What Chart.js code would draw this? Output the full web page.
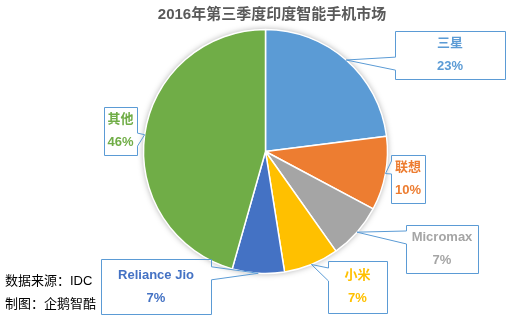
<!DOCTYPE html>
<html>
<head>
<meta charset="utf-8">
<script src="https://cdn.jsdelivr.net/npm/chart.js@4/dist/chart.umd.min.js"></script>
<style>
  html, body { margin: 0; padding: 0; background: #fff; }
  canvas { display: block; }
</style>
</head>
<body>
<canvas id="grafico" width="527" height="320"></canvas>
<script>
const marcas = ['三星', '联想', 'Micromax', '小米', 'Reliance Jio', '其他'];
const cuota = [23, 9.8, 7.4, 7.3, 6.9, 45.6];
const colores = ['#5B9BD5', '#ED7D31', '#A5A5A5', '#FFC000', '#4472C4', '#70AD47'];
const titulo = '2016年第三季度印度智能手机市场';
const notas = ['数据来源：IDC', '制图：企鹅智酷'];

// cajas de las etiquetas (posicion en pixeles)
const cajas = [
  { x: 395, y: 31, w: 110, h: 48 },
  { x: 391, y: 155, w: 34, h: 48 },
  { x: 406, y: 225, w: 72, h: 48 },
  { x: 328, y: 261, w: 59, h: 52 },
  { x: 101, y: 259, w: 110, h: 55 },
  { x: 104, y: 107, w: 33, h: 48 }
];

const FUENTE = '"Liberation Sans", "Noto Sans CJK SC", sans-serif';
const BORDE_CAJA = '#5B9BD5';

const etiquetas = {
  id: 'etiquetas',
  beforeDatasetsDraw(chart) {
    const arc = chart.getDatasetMeta(0).data[0];
    const ctx = chart.ctx;
    ctx.save();
    ctx.shadowColor = 'rgba(0,0,0,0.35)';
    ctx.shadowBlur = 6;
    ctx.fillStyle = '#fff';
    ctx.beginPath();
    ctx.arc(arc.x, arc.y, arc.outerRadius, 0, Math.PI * 2);
    ctx.fill();
    ctx.restore();
  },
  afterDatasetsDraw(chart) {
    const ctx = chart.ctx;
    const arcos = chart.getDatasetMeta(0).data;
    ctx.save();

    arcos.forEach((arco, i) => {
      const b = cajas[i];
      const medio = (arco.startAngle + arco.endAngle) / 2;
      const px = arco.x + arco.outerRadius * Math.cos(medio);
      const py = arco.y + arco.outerRadius * Math.sin(medio);

      const x0 = Math.round(b.x) + 0.5, y0 = Math.round(b.y) + 0.5;
      const x1 = Math.round(b.x + b.w) + 0.5, y1 = Math.round(b.y + b.h) + 0.5;
      const frac = py < b.y + b.h / 2 ? 0.26 : 0.68;
      const bc = b.y + b.h * frac;
      const b0 = bc - 6.5, b1 = bc + 6.5;

      ctx.beginPath();
      if (px < b.x) {
        ctx.moveTo(x0, y0);
        ctx.lineTo(x1, y0);
        ctx.lineTo(x1, y1);
        ctx.lineTo(x0, y1);
        ctx.lineTo(x0, b1);
        ctx.lineTo(px, py);
        ctx.lineTo(x0, b0);
      } else {
        ctx.moveTo(x0, y0);
        ctx.lineTo(x1, y0);
        ctx.lineTo(x1, b0);
        ctx.lineTo(px, py);
        ctx.lineTo(x1, b1);
        ctx.lineTo(x1, y1);
        ctx.lineTo(x0, y1);
      }
      ctx.closePath();
      ctx.strokeStyle = BORDE_CAJA;
      ctx.lineWidth = 1;
      ctx.stroke();

      const cx = b.x + b.w / 2, cy = b.y + b.h / 2;
      ctx.fillStyle = colores[i];
      ctx.font = 'bold 13px ' + FUENTE;
      ctx.textAlign = 'center';
      ctx.textBaseline = 'middle';
      ctx.fillText(marcas[i], cx, cy - 11.5);
      ctx.fillText(Math.round(cuota[i]) + '%', cx, cy + 11.5);
    });

    // titulo
    ctx.fillStyle = '#595959';
    ctx.font = 'bold 15px ' + FUENTE;
    ctx.textAlign = 'center';
    ctx.textBaseline = 'middle';
    ctx.fillText(titulo, 272, 15);

    // notas
    ctx.fillStyle = '#000';
    ctx.font = '13px ' + FUENTE;
    ctx.textAlign = 'left';
    ctx.fillText(notas[0], 5, 281);
    ctx.fillText(notas[1], 5, 304);

    ctx.restore();
  }
};

new Chart(document.getElementById('grafico').getContext('2d'), {
  type: 'pie',
  data: {
    labels: marcas,
    datasets: [{
      data: cuota,
      backgroundColor: colores,
      borderColor: '#fff',
      borderWidth: 1.5
    }]
  },
  options: {
    responsive: false,
    animation: false,
    layout: {
      padding: { left: 142.75, right: 138.75, top: 28.75, bottom: 45.75 }
    },
    plugins: {
      legend: { display: false },
      tooltip: { enabled: false },
      title: { display: false }
    }
  },
  plugins: [etiquetas]
});
</script>
</body>
</html>
